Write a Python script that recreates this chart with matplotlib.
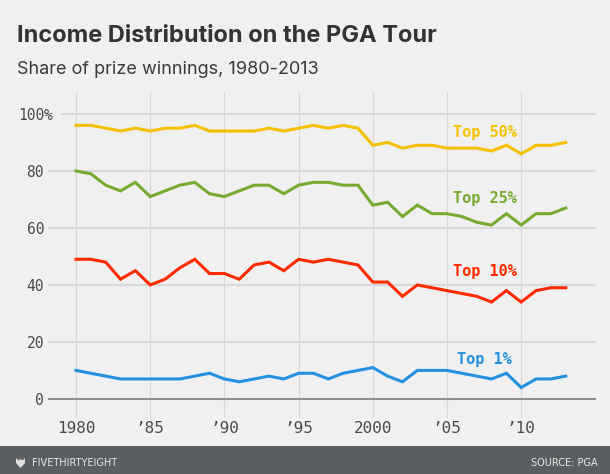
import matplotlib
matplotlib.use("Agg")
import matplotlib.pyplot as plt
from matplotlib.patches import Rectangle, Polygon

years = list(range(1980, 2014))
top50 = [96, 96, 95, 94, 95, 94, 95, 95, 96, 94, 94, 94, 94, 95, 94, 95, 96, 95, 96, 95,
         89, 90, 88, 89, 89, 88, 88, 88, 87, 89, 86, 89, 89, 90]
top25 = [80, 79, 75, 73, 76, 71, 73, 75, 76, 72, 71, 73, 75, 75, 72, 75, 76, 76, 75, 75,
         68, 69, 64, 68, 65, 65, 64, 62, 61, 65, 61, 65, 65, 67]
top10 = [49, 49, 48, 42, 45, 40, 42, 46, 49, 44, 44, 42, 47, 48, 45, 49, 48, 49, 48, 47,
         41, 41, 36, 40, 39, 38, 37, 36, 34, 38, 34, 38, 39, 39]
top1 = [10, 9, 8, 7, 7, 7, 7, 7, 8, 9, 7, 6, 7, 8, 7, 9, 9, 7, 9, 10,
        11, 8, 6, 10, 10, 10, 9, 8, 7, 9, 4, 7, 7, 8]

series_names = ["Top 50%", "Top 25%", "Top 10%", "Top 1%"]
series_vals = [top50, top25, top10, top1]
series_colors = ["#f4c000", "#77aa30", "#ff2a00", "#2490e0"]
label_y = [92.0, 68.9, 43.2, 12.2]
label_x = 2007.55

xticks = [1980, 1985, 1990, 1995, 2000, 2005, 2010]
xticklabels = ["1980", "\u201985", "\u201990", "\u201995", "2000", "\u201905", "\u201910"]
yticks = [0, 20, 40, 60, 80, 100]
yticklabels = ["0", "20", "40", "60", "80", "100"]

BG = "#f0f0f0"
fig = plt.figure(figsize=(6.10, 4.74), dpi=100, facecolor=BG)
W, H = 610, 474
ax_l, ax_r, ax_t, ax_b = 47.5, 596, 92, 418
ax = fig.add_axes([ax_l / W, 1 - ax_b / H, (ax_r - ax_l) / W, (ax_b - ax_t) / H])
ax.set_facecolor(BG)
for s in ax.spines.values():
    s.set_visible(False)

xmin, xmax = 1978.08, 2015.04
ymin, ymax = -6.7, 107.7
ax.set_xlim(xmin, xmax)
ax.set_ylim(ymin, ymax)

# grid
for x in xticks:
    ax.axvline(x, color="#d8d8d8", lw=0.8, zorder=1)
for y in yticks:
    if y == 0:
        ax.axhline(y, color="#8e8e8e", lw=1.5, zorder=2)
    elif y == 100:
        ax.axhline(y, xmin=(61.5 - ax_l) / (ax_r - ax_l), color="#d8d8d8", lw=1.5, zorder=1)
    else:
        ax.axhline(y, color="#d8d8d8", lw=1.5, zorder=1)

for name, vals, c, ly in zip(series_names, series_vals, series_colors, label_y):
    ax.plot(years, vals, color=c, lw=2.2, zorder=3, solid_joinstyle="miter")
    ax.text(label_x, ly, name, color=c, ha="center", va="baseline",
            fontsize=11, fontweight="bold", family="DejaVu Sans Mono", clip_on=False)

ax.set_xticks(xticks)
ax.set_xticklabels(xticklabels, family="DejaVu Sans Mono", fontsize=11.5, color="#4a4a4a")
ax.set_yticks(yticks)
ax.set_yticklabels(yticklabels, family="DejaVu Sans Mono", fontsize=10.5, color="#4a4a4a")
ax.tick_params(axis="both", length=0)
ax.tick_params(axis="y", pad=2.5)
ax.tick_params(axis="x", pad=2)
ax.text(-0.0064, 100, "%", transform=ax.get_yaxis_transform(), ha="left", va="center_baseline",
        family="DejaVu Sans Mono", fontsize=10.5, color="#4a4a4a")

# titles
fig.text(17 / W, 1 - 42.3 / H, "Income Distribution on the PGA Tour", ha="left", va="baseline",
         fontsize=17, fontweight="bold", family="Inter", color="#333333")
fig.text(17 / W, 1 - 74 / H, "Share of prize winnings, 1980-2013", ha="left", va="baseline",
         fontsize=13, family="Inter", color="#3a3a3a")

# footer
fig.patches.append(Rectangle((0, 0), 1, 28 / H, transform=fig.transFigure,
                             facecolor="#5b5e60", edgecolor="none", zorder=0))
icon = [(16, 458), (18.5, 460.5), (20.5, 459), (22.5, 460.5), (25, 458), (25, 463),
        (20.5, 468), (16, 463)]
fig.patches.append(Polygon([(x / W, 1 - y / H) for x, y in icon], closed=True,
                           transform=fig.transFigure, facecolor="#e0e0e0", edgecolor="none"))
fig.text(32 / W, 1 - 465.5 / H, "FIVETHIRTYEIGHT", ha="left", va="baseline", fontsize=7.8,
         family=["DejaVu Sans"], fontstretch="condensed", color="#e6e6e6")
fig.text(598 / W, 1 - 465.5 / H, "SOURCE: PGA", ha="right", va="baseline", fontsize=7.8,
         family=["DejaVu Sans"], fontstretch="condensed", color="#e6e6e6")

fig.savefig("out.png", dpi=100, facecolor=BG)
